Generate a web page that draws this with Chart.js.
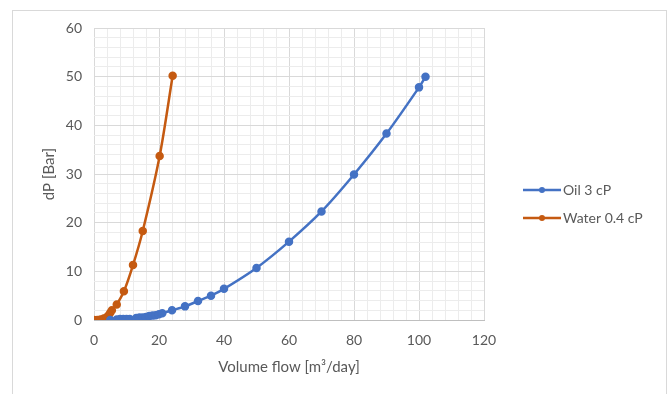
<!DOCTYPE html>
<html>
<head>
<meta charset="utf-8">
<script src="https://cdn.jsdelivr.net/npm/chart.js@4"></script>
<style>
  html, body { margin: 0; padding: 0; background: #fff; }
  #wrap { position: relative; width: 671px; height: 394px; }
  #frame { position: absolute; left: 12px; top: 10px; width: 655px; height: 400px; border: 1px solid #d9d9d9; box-sizing: border-box; }
</style>
</head>
<body>
<div id="wrap">
  <div id="frame"></div>
  <canvas id="chart" width="671" height="394"></canvas>
</div>
<script>
// volume flow [m3/day] and dP [bar]
const oilX = [5, 7, 8, 9, 10, 11, 13, 14, 15, 16, 17, 18, 19, 20, 21, 24, 28, 32, 36, 40, 50, 60, 70, 80, 90, 100, 102];
const oilY = [0, 0.1, 0.2, 0.2, 0.2, 0.2, 0.4, 0.5, 0.5, 0.6, 0.8, 0.9, 1.0, 1.2, 1.4, 2.0, 2.8, 3.9, 5.0, 6.4, 10.7, 16.1, 22.3, 29.9, 38.3, 47.8, 50.0];
const waterX = [0, 1, 2, 3, 4, 4.5, 5, 5.5, 7, 9.2, 12, 15, 20.2, 24.2];
const waterY = [0, 0, 0.1, 0.3, 0.6, 1.0, 1.5, 2.0, 3.2, 5.9, 11.3, 18.3, 33.7, 50.2];
const seriesNames = ['Oil 3 cP', 'Water 0.4 cP'];
const seriesColors = ['#4472C4', '#C55A11'];
const xTicks = [0, 20, 40, 60, 80, 100, 120];
const yTicks = [0, 10, 20, 30, 40, 50, 60];

const FONT = 'Lato, "Open Sans", sans-serif';
const pts = (xs, ys) => xs.map((x, i) => ({ x, y: ys[i] }));

const legendRight = {
  id: 'legendRight',
  afterDraw(c) {
    const ctx = c.ctx;
    ctx.save();
    ctx.font = '14px ' + FONT;
    ctx.textBaseline = 'middle';
    c.data.datasets.forEach((ds, i) => {
      const y = 190 + i * 28;
      ctx.strokeStyle = ds.borderColor;
      ctx.lineWidth = 2.5;
      ctx.beginPath(); ctx.moveTo(523, y); ctx.lineTo(561, y); ctx.stroke();
      ctx.fillStyle = ds.borderColor;
      ctx.beginPath(); ctx.arc(542, y, 3, 0, Math.PI * 2); ctx.fill();
      ctx.fillStyle = '#595959';
      ctx.fillText(ds.label, 563, y);
    });
    ctx.restore();
  }
};

const mk = (xs, ys, i) => ({
  label: seriesNames[i], data: pts(xs, ys),
  borderColor: seriesColors[i], backgroundColor: seriesColors[i],
  borderWidth: 2.5, pointRadius: 3, pointHoverRadius: 3, tension: 0.3
});

new Chart(document.getElementById('chart'), {
  type: 'scatter',
  data: { datasets: [mk(oilX, oilY, 0), mk(waterX, waterY, 1)].map(d => ({ ...d, showLine: true })) },
  options: {
    responsive: false, animation: false,
    layout: { padding: { left: 40, right: 187, top: 28, bottom: 14 } },
    plugins: { legend: { display: false }, tooltip: { enabled: false } },
    scales: {
      x: {
        type: 'linear', min: 0, max: 120,
        afterFit: s => { s.height = 60; },
        ticks: { stepSize: 4, autoSkip: false, maxRotation: 0, padding: 12, color: '#595959', font: { family: FONT, size: 14 },
          callback: v => xTicks.includes(v) ? v : '' },
        grid: { drawTicks: false, color: ctx => xTicks.includes(ctx.tick.value) ? '#d9d9d9' : '#ececec' },
        border: { color: '#bfbfbf' },
        title: { display: true, text: 'Volume flow [m³/day]', color: '#595959', font: { family: FONT, size: 15 }, padding: { top: 4 } }
      },
      y: {
        type: 'linear', min: 0, max: 60,
        afterFit: s => { s.width = 54; },
        ticks: { stepSize: 2, autoSkip: false, padding: 12, color: '#595959', font: { family: FONT, size: 14 },
          callback: v => yTicks.includes(v) ? v : '' },
        grid: { drawTicks: false, color: ctx => yTicks.includes(ctx.tick.value) ? '#d9d9d9' : '#ececec' },
        border: { display: false },
        title: { display: true, text: 'dP [Bar]', color: '#595959', font: { family: FONT, size: 15 }, padding: 0 }
      }
    }
  },
  plugins: [legendRight]
});
</script>
</body>
</html>
